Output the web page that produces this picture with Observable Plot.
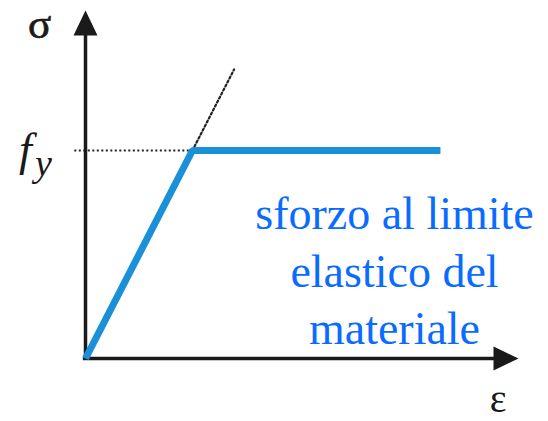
<!DOCTYPE html>
<html>
<head>
<meta charset="utf-8">
<script src="https://cdn.jsdelivr.net/npm/d3@7"></script>
<script src="https://cdn.jsdelivr.net/npm/@observablehq/plot@0.6"></script>
<style>
  html, body { margin: 0; padding: 0; background: #fff; }
  svg text { font-family: "Liberation Serif", "Times New Roman", serif; }
</style>
</head>
<body>
<div id="chart"></div>
<script>
// Elastic–perfectly plastic stress–strain diagram (normalised units: ε/εy, σ/fy)
const strain = [0, 1, 3.32];          // ε : origin, yield point, end of plateau
const stress = [0, 1, 1];             // σ
const extStrain = [1, 1.39];          // dotted continuation of the elastic branch
const extStress = [1, 1.39];
const fy = 1;                          // yield stress level
const xMax = 4.05;                     // end of ε axis (arrow tip)
const yMax = 1.673;                    // end of σ axis (arrow tip)
const labelLines = ["sforzo al limite", "elastico del", "materiale"];
const axisLabels = {sigma: "σ", eps: "ε", f: "f", y: "y"};

const curve = strain.map((e, i) => ({e, s: stress[i]}));
const ext = extStrain.map((e, i) => ({e, s: extStress[i]}));

// custom arrowhead symbol: tip at the origin, pointing up
const arrowHead = {
  draw(ctx, size) {
    const L = 25, W = 12;
    ctx.moveTo(0, 0);
    ctx.lineTo(W, L);
    ctx.lineTo(-W, L);
    ctx.closePath();
  }
};

const serif = "Liberation Serif";

const chart = Plot.plot({
  width: 548,
  height: 421,
  marginLeft: 85,
  marginRight: 30,
  marginTop: 10,
  marginBottom: 63,
  x: {domain: [0, xMax], axis: null},
  y: {domain: [0, yMax], axis: null},
  style: {background: "#fff"},
  marks: [
    // dotted guides
    Plot.ruleY([fy], {x1: -0.1, x2: strain[1], stroke: "#222", strokeWidth: 2, strokeDasharray: "2 2.5"}),
    Plot.line(ext, {x: "e", y: "s", stroke: "#222", strokeWidth: 2.2, strokeDasharray: "2 2.5"}),
    // axes
    Plot.ruleX([0], {y1: 0, y2: yMax * 0.93, stroke: "#1a1a1a", strokeWidth: 3.5}),
    Plot.ruleY([0], {x1: -0.02, x2: xMax * 0.95, stroke: "#1a1a1a", strokeWidth: 3.5}),
    Plot.dot([0], {x: 0, y: yMax, symbol: arrowHead, fill: "#1a1a1a", stroke: null, r: 10}),
    Plot.dot([0], {x: xMax, y: 0, symbol: arrowHead, fill: "#1a1a1a", stroke: null, r: 10, rotate: 90}),
    // stress-strain curve
    Plot.line(curve, {x: "e", y: "s", stroke: "#1a90d8", strokeWidth: 7, strokeLinejoin: "miter", strokeLinecap: "butt"}),
    // labels
    Plot.text([axisLabels.sigma], {x: 0, y: yMax, text: d => d, dx: -46, dy: 14, fontSize: 43, fontFamily: serif, fill: "#1a1a1a", stroke: "#1a1a1a", strokeWidth: 0.7, lineAnchor: "middle"}),
    Plot.text([axisLabels.f], {x: 0, y: fy, text: d => d, dx: -60, dy: 0, fontSize: 46, fontFamily: serif, fontStyle: "italic", fill: "#1a1a1a", lineAnchor: "middle"}),
    Plot.text([axisLabels.y], {x: 0, y: fy, text: d => d, dx: -42, dy: 13, fontSize: 38, fontFamily: serif, fontStyle: "italic", fill: "#1a1a1a", lineAnchor: "middle"}),
    Plot.text([axisLabels.eps], {x: 3.86, y: 0, text: d => d, dy: 41, fontSize: 40, fontFamily: serif, fill: "#1a1a1a", lineAnchor: "middle"}),
    Plot.text([labelLines.join("\n")], {x: 2.89, y: 0.433, text: d => d, fontSize: 46, fontFamily: serif, lineHeight: 1.25, fill: "#0a6cff", lineAnchor: "middle", textAnchor: "middle"})
  ]
});

document.getElementById("chart").appendChild(chart);
</script>
</body>
</html>
